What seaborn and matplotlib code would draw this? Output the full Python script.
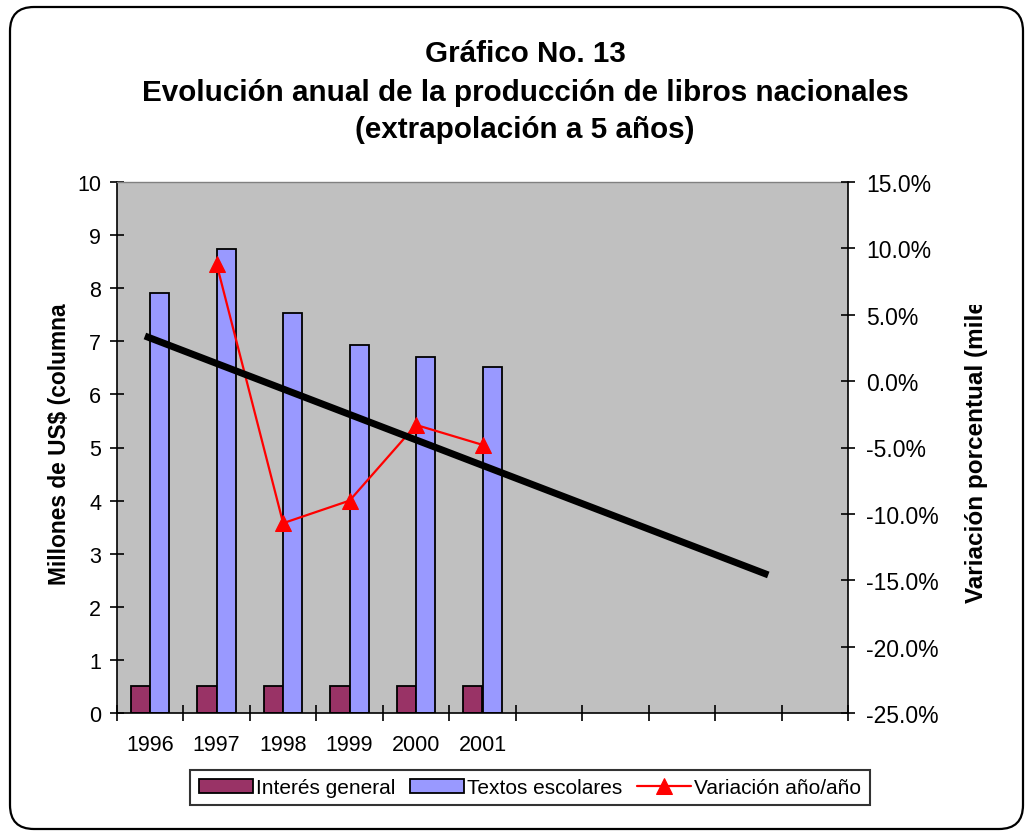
import numpy as np
import pandas as pd
import matplotlib
matplotlib.use("Agg")
import matplotlib.pyplot as plt
import seaborn as sns
from matplotlib.patches import FancyBboxPatch, Rectangle
from matplotlib.transforms import IdentityTransform
from matplotlib.ticker import FuncFormatter

# --- data ---
years = ["1996", "1997", "1998", "1999", "2000", "2001"]
extra_slots = ["+1", "+2", "+3", "+4", "+5"]  # 5 empty extrapolation years
series_names = ["Interés general", "Textos escolares"]
interes_general = [0.5, 0.5, 0.5, 0.5, 0.5, 0.5]
textos_escolares = [7.91, 8.74, 7.53, 6.93, 6.70, 6.51]

var_years = ["1997", "1998", "1999", "2000", "2001"]
variacion = [8.8, -10.7, -9.0, -3.3, -4.8]  # percent

# linear trend (extrapolated 5 years), category positions and % values
trend_pos = [-0.08, 9.30]
trend_vals = [3.4, -14.6]

title_lines = [
    "Gráfico No. 13",
    "Evolución anual de la producción de libros nacionales",
    "(extrapolación a 5 años)",
]

PURPLE = "#993366"
BLUE = "#9999FF"
GRAY = "#C0C0C0"

sns.set_style("white")
plt.rcParams["font.family"] = ["Liberation Sans", "DejaVu Sans"]
plt.rcParams["text.color"] = "black"
plt.rcParams["xtick.color"] = "black"
plt.rcParams["ytick.color"] = "black"
plt.rcParams["axes.labelcolor"] = "black"

W, H = 1031, 837
fig = plt.figure(figsize=(W / 100, H / 100), dpi=100)
ax = fig.add_axes([117 / W, 1 - 714 / H, (848 - 117) / W, (714 - 183) / H])
ax.set_facecolor(GRAY)

order = years + extra_slots
df = pd.DataFrame({
    "Año": years * 2,
    "Serie": [series_names[0]] * len(years) + [series_names[1]] * len(years),
    "Valor": interes_general + textos_escolares,
})

sns.barplot(data=df, x="Año", y="Valor", hue="Serie", order=order,
            hue_order=series_names, palette=[PURPLE, BLUE], saturation=1,
            width=0.58, edgecolor="black", linewidth=1.3, errorbar=None, ax=ax)
bar_handles, bar_labels = ax.get_legend_handles_labels()
if ax.get_legend() is not None:
    ax.get_legend().remove()

ax.set_xlim(-0.5, len(order) - 0.5)
ax.set_ylim(0, 10)
ax.set_yticks(range(0, 11))
ax.set_xticks(np.arange(len(order) + 1) - 0.5)
ax.set_xticklabels([])
ax.set_xticks(range(len(years)), labels=years, minor=True)
ax.set_xlabel("")
ax.set_ylabel("")

ax.tick_params(axis="y", direction="inout", length=9.5, width=1.2,
               labelsize=15.5, pad=6.5, colors="black", left=True)
ax.tick_params(axis="x", which="major", direction="inout", length=11,
               width=1.2, bottom=True, colors="black")
ax.tick_params(axis="x", which="minor", length=0, labelsize=15.5, pad=15,
               labelcolor="black")

for side in ["left", "bottom"]:
    ax.spines[side].set_color("black")
    ax.spines[side].set_linewidth(1.2)
ax.spines["top"].set_color("#808080")
ax.spines["top"].set_linewidth(1)
ax.spines["right"].set_visible(False)

# secondary axis: year-on-year change
ax2 = ax.twinx()
var_pos = [order.index(y) for y in var_years]
sns.lineplot(x=var_pos, y=variacion, ax=ax2, color="red", marker="^",
             markersize=11, markeredgecolor="red", linewidth=1.6,
             legend=False)
var_line = ax2.lines[-1]
ax2.plot(trend_pos, trend_vals, color="black", linewidth=5,
         solid_capstyle="butt", zorder=5)

ax2.set_ylim(-25, 15)
ax2.set_yticks(range(-25, 16, 5))
ax2.yaxis.set_major_formatter(FuncFormatter(lambda v, _: f"{v:.1f}%"))
ax2.tick_params(axis="y", direction="inout", length=9.5, width=1.2,
                labelsize=16.5, pad=8.5, colors="black", right=True)
ax2.set_xlabel("")
ax2.set_ylabel("")
for side in ["left", "bottom", "top"]:
    ax2.spines[side].set_visible(False)
ax2.spines["right"].set_color("black")
ax2.spines["right"].set_linewidth(1.2)
ax.set_xlim(-0.5, len(order) - 0.5)

# titles
for line, base in zip(title_lines, [62, 101, 138]):
    fig.text(525 / W, 1 - base / H, line, ha="center", va="baseline",
             fontsize=21.3, fontweight="bold", color="black")

# axis titles
fig.text(60 / W, 1 - 444 / H, "Millones de US$ (columna", rotation=90,
         ha="center", va="center", fontsize=16.4, fontweight="bold",
         color="black")
fig.text(976 / W, 1 - 603 / H, "Variación porcentual (miles)",
         rotation=90, ha="center", va="bottom", fontsize=17.5,
         fontweight="bold", color="black")
# the label is cut off in the original chart
fig.add_artist(Rectangle((950, H - 306), 50, 90, transform=IdentityTransform(),
                         facecolor="white", edgecolor="none", zorder=10))

# legend
leg = fig.legend(bar_handles + [var_line], bar_labels + ["Variación año/año"],
                 loc="center", bbox_to_anchor=(530 / W, 1 - 788.5 / H),
                 ncol=3, frameon=True, fancybox=False, edgecolor="black",
                 fontsize=15, handlelength=2.6, handleheight=0.65,
                 handletextpad=0.15, columnspacing=0.7, borderpad=0.4,
                 borderaxespad=0, labelcolor="black")
leg.get_frame().set_linewidth(1.5)

# rounded chart border
border = FancyBboxPatch((10, 7), 1013, 822,
                        boxstyle="round,pad=0,rounding_size=24",
                        transform=IdentityTransform(), facecolor="none",
                        edgecolor="black", linewidth=1.6, zorder=11)
fig.add_artist(border)

fig.savefig("out.png", dpi=100)
